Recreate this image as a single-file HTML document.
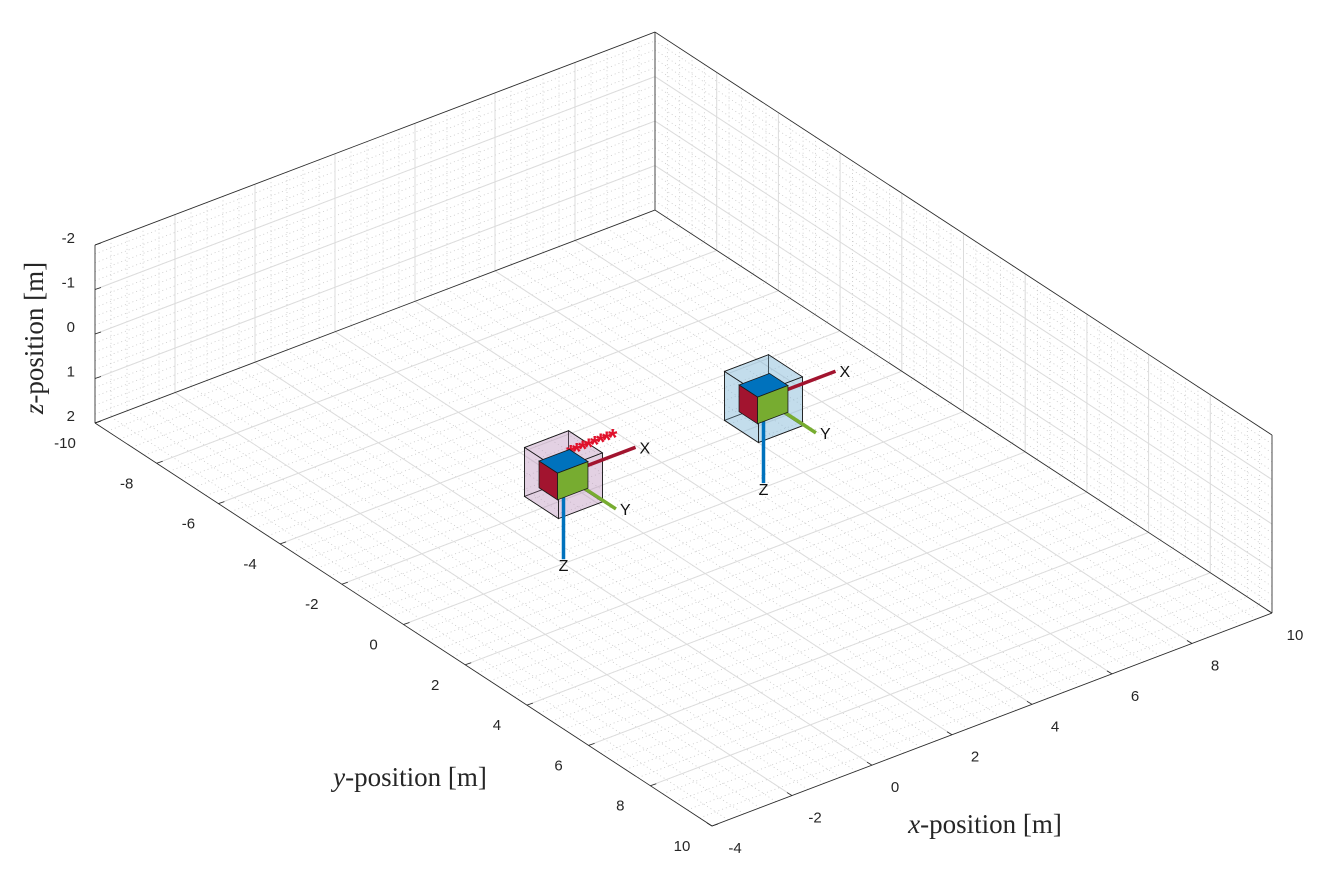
<!DOCTYPE html>
<html><head><meta charset="utf-8"><style>
html,body{margin:0;padding:0;background:#fff}
svg{display:block}
text{font-family:"Liberation Sans",sans-serif;font-size:15px;fill:#262626}
.t{font-family:"Liberation Serif",serif;font-size:27px;fill:#262626}
</style></head><body>
<svg id="c" width="1320" height="888" viewBox="0 0 1320 888">
<g id="grid"></g>
<g id="axes"></g>
<g id="marks"></g>
<text class="t" transform="translate(43,338) rotate(-90)" text-anchor="middle"><tspan font-style="italic">z</tspan>-position [m]</text>
<text class="t" x="410" y="786" text-anchor="middle"><tspan font-style="italic">y</tspan>-position [m]</text>
<text class="t" x="985" y="833" text-anchor="middle"><tspan font-style="italic">x</tspan>-position [m]</text>
</svg>
<script>
const xTicks=[-4,-2,0,2,4,6,8,10];
const yTicks=[-10,-8,-6,-4,-2,0,2,4,6,8,10];
const zTicks=[-2,-1,0,1,2];
const droneNames=['drone-1','drone-2'];
const droneX=[0,5];
const droneY=[0,0];
const droneZ=[0,0];
const droneBoxColor=['rgba(190,150,190,0.25)','rgba(140,190,220,0.3)'];
const trailX=[0.45,0.6,0.75,0.9,1.05,1.2,1.35,1.5];
const axisLen=[1.8,1.7,1.9];
const O=[95,423],ex=[40,-15.21],ey=[30.85,20.15],ez=[0,44.5];
function P(x,y,z){return [O[0]+(x+4)*ex[0]+(y+10)*ey[0]+(z-2)*ez[0], O[1]+(x+4)*ex[1]+(y+10)*ey[1]+(z-2)*ez[1]];}
const NS='http://www.w3.org/2000/svg';
function el(par,tag,at){const e=document.createElementNS(NS,tag);for(const k in at)e.setAttribute(k,at[k]);par.appendChild(e);return e;}
function line(par,a,b,st){return el(par,'line',Object.assign({x1:a[0],y1:a[1],x2:b[0],y2:b[1]},st));}
function poly(par,pts,st){return el(par,'polygon',Object.assign({points:pts.map(p=>p.join(',')).join(' ')},st));}
const G=document.getElementById('grid'),A=document.getElementById('axes'),M=document.getElementById('marks');
const maj={stroke:'#dcdcdc','stroke-width':1},mnr={stroke:'#c8c8c8','stroke-width':0.8,'stroke-dasharray':'1,3'};
for(let v=-4;v<=10.001;v+=0.4){line(G,P(v,-10,2),P(v,10,2),mnr);line(G,P(v,-10,-2),P(v,-10,2),mnr);}
for(let v=-10;v<=10.001;v+=0.4){line(G,P(-4,v,2),P(10,v,2),mnr);line(G,P(10,v,-2),P(10,v,2),mnr);}
for(let v=-2;v<=2.001;v+=0.2){line(G,P(-4,-10,v),P(10,-10,v),mnr);line(G,P(10,-10,v),P(10,10,v),mnr);}
xTicks.forEach(v=>{const a=line(G,P(v,-10,2),P(v,10,2),maj);line(G,P(v,-10,-2),P(v,-10,2),maj);});
yTicks.forEach(v=>{const a=line(G,P(-4,v,2),P(10,v,2),maj);line(G,P(10,v,-2),P(10,v,2),maj);});
zTicks.forEach(v=>{line(G,P(-4,-10,v),P(10,-10,v),maj);line(G,P(10,-10,v),P(10,10,v),maj);});
const bk={stroke:'#262626','stroke-width':0.8};
[[P(-4,-10,-2),P(10,-10,-2)],[P(10,-10,-2),P(10,10,-2)],[P(10,-10,-2),P(10,-10,2)],[P(10,10,-2),P(10,10,2)],[P(-4,-10,-2),P(-4,-10,2)],[P(-4,-10,2),P(-4,10,2)],[P(-4,10,2),P(10,10,2)],[P(-4,-10,2),P(10,-10,2)],[P(10,-10,2),P(10,10,2)]].forEach(s=>line(A,s[0],s[1],bk));
xTicks.forEach(v=>{const p=P(v,10,2);line(A,p,[p[0]-5,p[1]-3],bk);const t=el(A,'text',{x:p[0]+23,y:p[1]+27,'text-anchor':'middle'});t.textContent=v;
});
yTicks.forEach(v=>{const p=P(-4,v,2);line(A,p,[p[0]+6,p[1]-2],bk);const t=el(A,'text',{x:p[0]-30,y:p[1]+25,'text-anchor':'middle'});t.textContent=v;
});
zTicks.forEach(v=>{const p=P(-4,-10,v);line(A,p,[p[0]+6,p[1]-2],bk);const t=el(A,'text',{x:p[0]-20,y:p[1]-2,'text-anchor':'end'});t.textContent=v;
});
function boxFaces(g,cx,cy,cz,hx,hy,hz,fill){
  const c=(sx,sy,sz)=>P(cx+sx*hx,cy+sy*hy,cz+sz*hz);
  const faces=[[[-1,-1,-1],[1,-1,-1],[1,1,-1],[-1,1,-1]],[[-1,-1,-1],[-1,1,-1],[-1,1,1],[-1,-1,1]],[[-1,1,-1],[1,1,-1],[1,1,1],[-1,1,1]]];
  return faces.map((f,i)=>poly(g,f.map(s=>c(...s)),{fill:fill[i],stroke:'#1a1a1a','stroke-width':0.8}));
}
droneNames.forEach((nm,i)=>{
  const g=el(M,'g',{});
  
  
  const cx=droneX[i],cy=droneY[i],cz=droneZ[i],h=0.55;
  const c=(sx,sy,sz)=>P(cx+sx*h,cy+sy*h,cz+sz*h);
  const back=[[[1,-1,-1],[1,1,-1],[1,1,1],[1,-1,1]],[[-1,-1,-1],[1,-1,-1],[1,-1,1],[-1,-1,1]],[[-1,-1,1],[1,-1,1],[1,1,1],[-1,1,1]]];
  back.forEach(f=>poly(g,f.map(s=>c(...s)),{fill:droneBoxColor[i],stroke:'#1a1a1a','stroke-width':0.8}));
  const front=[[[-1,-1,-1],[1,-1,-1],[1,1,-1],[-1,1,-1]],[[-1,-1,-1],[-1,1,-1],[-1,1,1],[-1,-1,1]],[[-1,1,-1],[1,1,-1],[1,1,1],[-1,1,1]]];
  front.forEach(f=>poly(g,f.map(s=>c(...s)),{fill:droneBoxColor[i],stroke:'#1a1a1a','stroke-width':0.8}));
  const o=P(cx,cy,cz);
  const ax=[[P(cx+axisLen[0],cy,cz),'#a2142f','X'],[P(cx,cy+axisLen[1],cz),'#77ac30','Y'],[P(cx,cy,cz+axisLen[2]),'#0072bd','Z']];
  ax.forEach(a=>{line(g,o,a[0],{stroke:a[1],'stroke-width':3.5});const t=el(g,'text',{x:a[0][0]+(a[2]==='Z'?0:4),y:a[0][1]+(a[2]==='Z'?12:6),'text-anchor':a[2]==='Z'?'middle':'start',style:'font-size:16px;fill:#111'});t.textContent=a[2];
  });
  if(i===0){trailX.forEach(tx=>{const p=P(cx+tx,cy-0.35,cz-0.25);const t=el(g,'text',{x:p[0],y:p[1]+12,'text-anchor':'middle',style:'font-size:24px;font-weight:bold;fill:#e0102a'});t.textContent='*';
  });}
  boxFaces(g,cx,cy,cz,0.38,0.3,0.3,['#0072bd','#a2142f','#77ac30']);
});
</script>
</body></html>
